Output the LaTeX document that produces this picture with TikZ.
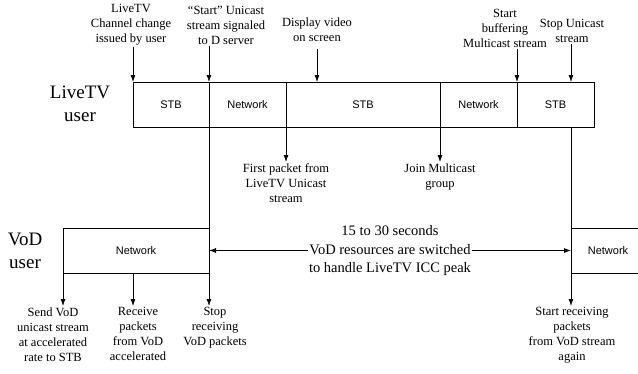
\documentclass[tikz,border=0pt]{standalone}
\usepackage{fontspec}
\setmainfont{Liberation Serif}
\newfontfamily\boxfont{Liberation Sans}
\usetikzlibrary{positioning}
\usetikzlibrary{arrows.meta}

\begin{document}
\begin{tikzpicture}[x=1pt,y=-1pt,>={Latex[length=7pt,width=5pt]},line width=0.8pt,
  seg/.style={draw,rectangle,minimum width=#1,minimum height=45pt,inner sep=0pt,outer sep=0pt,font=\boxfont\fontsize{11}{13}\selectfont},
  lbl/.style={align=center,inner sep=1pt,font=\fontsize{12.5}{15}\selectfont},
  who/.style={align=center,inner sep=0pt,font=\fontsize{19}{23}\selectfont},
  span/.style={align=center,inner sep=1pt,fill=white,font=\fontsize{14.5}{18.5}\selectfont}]

\useasboundingbox (0,0) rectangle (638,373);

\node[who] (livetv) at (80,104) {LiveTV\\user};
\node[who] (vod) at (25,251) {VoD\\user};

\node[seg=76pt,anchor=north west] (stbone) at (133,82) {STB};
\node[seg=77pt,right=0pt of stbone] (netone) {Network};
\node[seg=154pt,right=0pt of netone] (stbtwo) {STB};
\node[seg=77pt,right=0pt of stbtwo] (nettwo) {Network};
\node[seg=77pt,right=0pt of nettwo] (stbthree) {STB};

\node[seg=146pt,anchor=north west] (vodone) at (63,228) {Network};
\node[seg=74pt,anchor=north west] (vodtwo) at (571,228) {Network};

\node[lbl] (chg) at (131,25) {LiveTV\\Channel change\\issued by user};
\node[lbl] (uni) at (226,25) {“Start” Unicast\\stream signaled\\to D server};
\node[lbl] (disp) at (317,30) {Display video\\on screen};
\node[lbl] (buf) at (505,28) {Start\\buffering\\Multicast stream};
\node[lbl] (stop) at (572,31) {Stop Unicast\\stream};

\draw[->] (chg.south -| stbone.north west) -- (stbone.north west);
\draw[->] (uni.south -| netone.north west) -- (netone.north west);
\draw[->] ([yshift=-6pt]disp.south) -- (disp.south |- stbtwo.north);
\draw[->] (buf.south -| nettwo.north east) -- (nettwo.north east);
\draw[->] (stop.south -| vodtwo.north west) -- (vodtwo.north west |- stbthree.north);

\node[lbl,anchor=north] (first) at (286,162) {First packet from\\LiveTV Unicast\\stream};
\node[lbl,anchor=north] (join) at (440,162) {Join Multicast\\group};
\draw[->] (stbtwo.south west) -- (first.north);
\draw[->] (nettwo.south west) -- (join.north);

\draw (netone.south west) -- (vodone.north east);
\draw (vodtwo.north west |- stbthree.south) -- (vodtwo.north west);

\draw[<->] (vodone.east) -- (vodtwo.west);
\node[span] (window) at (390,251) {15 to 30 seconds\\VoD resources are switched\\to handle LiveTV ICC peak};

\node[lbl,anchor=north] (send) at (53,306) {Send VoD\\unicast stream\\at accelerated\\rate to STB};
\node[lbl,anchor=north] (recv) at (138,306) {Receive\\packets\\from VoD\\accelerated};
\node[lbl,anchor=north] (halt) at (215,306) {Stop\\receiving\\VoD packets};
\node[lbl,anchor=north] (again) at (572,306) {Start receiving\\packets\\from VoD stream\\again};

\draw[->] (vodone.south west) -- (vodone.south west |- send.north);
\draw[->] (vodone.south -| stbone.west) -- (recv.north -| stbone.west);
\draw[->] (vodone.south east) -- (vodone.south east |- halt.north);
\draw[->] (vodtwo.south west) -- (vodtwo.south west |- again.north);
\end{tikzpicture}
\end{document}
